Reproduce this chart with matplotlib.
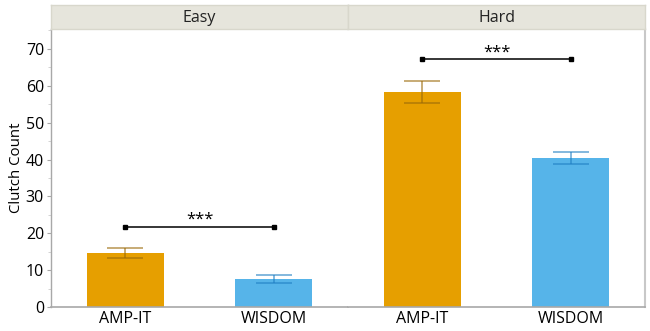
import numpy as np
import matplotlib
matplotlib.use('Agg')
import matplotlib.pyplot as plt
from matplotlib.ticker import MultipleLocator

plt.rcParams['font.family'] = ['Open Sans', 'DejaVu Sans']

# clutch counts per condition (mean and error half-width)
conditions = ['Easy', 'Hard']
methods = ['AMP-IT', 'WISDOM']
means = {'Easy': [14.7, 7.6], 'Hard': [58.3, 40.4]}
errors = {'Easy': [1.3, 1.2], 'Hard': [3.0, 1.6]}
sig_height = {'Easy': 21.8, 'Hard': 67.2}
sig_label = ['***', '***']

bar_colors = ['#E69F00', '#56B4E9']
err_colors = ['#9a6a08', '#1f7fc4']
strip_color = '#e6e5dc'
axis_gray = '#a8a8a8'

W, H = 650, 331
fig = plt.figure(figsize=(W / 100, H / 100), dpi=100)

x0, xmid, x1 = 51, 348, 645
ybot, ytop, strip_top = 307, 29, 5

def fx(px):
    return px / W

def fy(py):
    return 1 - py / H

panels = [(x0, xmid), (xmid, x1)]
axes = []
for i, cond in enumerate(conditions):
    left, right = panels[i]
    ax = fig.add_axes([fx(left), fy(ybot), fx(right - left), fy(ytop) - fy(ybot)])
    axes.append(ax)
    xs = np.arange(len(methods))
    ax.bar(xs, means[cond], width=0.52, color=bar_colors, zorder=2)
    for j in range(len(methods)):
        ax.errorbar(xs[j], means[cond][j], yerr=errors[cond][j], color=err_colors[j],
                    alpha=0.6, capsize=13.3, elinewidth=1.3, capthick=1.3, zorder=3)
    # significance bracket
    h = sig_height[cond]
    ax.plot(xs, [h, h], color='black', lw=1.1, marker='s', ms=3.5, zorder=4)
    ax.text(xs.mean(), h - 0.4, sig_label[i], ha='center', va='bottom', fontsize=12)

    ax.set_xlim(-0.5, 1.5)
    ax.set_ylim(0, 75.4)
    ax.set_xticks(xs)
    ax.set_xticklabels(methods, fontsize=11.5)
    ax.tick_params(axis='x', length=0, pad=3)
    for s in ['top', 'right', 'left']:
        ax.spines[s].set_visible(False)
    ax.spines['bottom'].set_color(axis_gray)
    ax.spines['bottom'].set_linewidth(1.2)

    # facet strip
    sax = fig.add_axes([fx(left), fy(ytop), fx(right - left), fy(strip_top) - fy(ytop)])
    sax.set_facecolor(strip_color)
    sax.set_xticks([])
    sax.set_yticks([])
    for s in sax.spines.values():
        s.set_color('#d8d7cc')
        s.set_linewidth(1.0)
    sax.text(0.5, 0.45, cond, ha='center', va='center', fontsize=11.5,
             color='#222222', transform=sax.transAxes)

ax = axes[0]
ax.spines['left'].set_visible(True)
ax.spines['left'].set_color(axis_gray)
ax.spines['left'].set_linewidth(1.0)
ax.yaxis.set_major_locator(MultipleLocator(10))
ax.yaxis.set_minor_locator(MultipleLocator(5))
ax.tick_params(axis='y', which='major', length=3, color=axis_gray, labelsize=11.5, pad=2)
ax.tick_params(axis='y', which='minor', length=2, color='#cccccc')
ax.set_ylabel('Clutch Count', fontsize=10.8, labelpad=1.5)

ax2 = axes[1]
ax2.set_yticks([])
ax2.spines['right'].set_visible(True)
ax2.spines['right'].set_color('#c8c8c8')
ax2.spines['right'].set_linewidth(1.5)

fig.savefig('out.png', dpi=100)
